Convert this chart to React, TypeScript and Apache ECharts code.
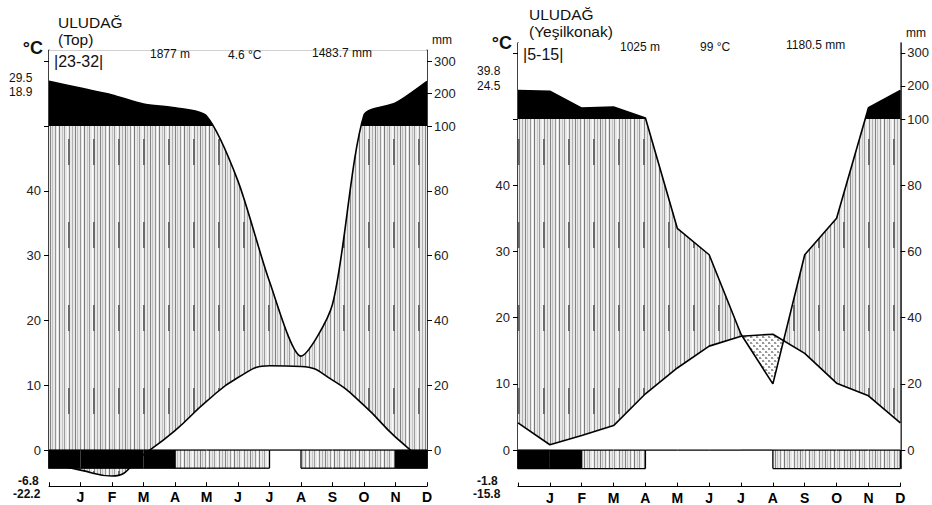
import React, { useEffect, useRef } from 'react';
import * as echarts from 'echarts';

// ---------- data ----------
const MONTHS = ['J', 'F', 'M', 'A', 'M', 'J', 'J', 'A', 'S', 'O', 'N', 'D'];

// Uludağ (Top)
const TOP_TEMP = [-3.1, -4.0, -0.7, 3.0, 7.5, 11.2, 13.0, 12.9, 10.8, 6.9, 2.0, -2.0];
const TOP_PRECIP = [217, 196, 168, 156, 131, 83, 52, 29, 45, 134, 171, 238];
// 2 = certain frost (black), 1 = probable frost (hatched), 0 = none
const TOP_FROST = [2, 2, 2, 2, 1, 1, 1, 0, 1, 1, 1, 2];
const TOP_TEXT = {
  name: 'ULUDAĞ', sub: '(Top)', years: '|23-32|', alt: '1877 m', meanT: '4.6 °C', sumP: '1483.7 mm',
  maxAbs: '29.5', maxMean: '18.9', minMean: '-6.8', minAbs: '-22.2',
};

// Uludağ (Yeşilkonak)
const YES_TEMP = [0.8, 2.2, 3.7, 8.5, 12.4, 15.7, 17.2, 17.5, 14.6, 10.1, 8.2, 4.1];
const YES_PRECIP = [184, 133, 136, 103, 67, 59, 35, 20, 59, 70, 134, 186];
const YES_FROST = [2, 2, 1, 1, 0, 0, 0, 0, 1, 1, 1, 1];
const YES_TEXT = {
  name: 'ULUDAĞ', sub: '(Yeşilkonak)', years: '|5-15|', alt: '1025 m', meanT: '99 °C', sumP: '1180.5 mm',
  maxAbs: '39.8', maxMean: '24.5', minMean: '-1.8', minAbs: '-15.8',
};

const TEMP_TICKS = [0, 10, 20, 30, 40, 50, 60];
const TEMP_LABELS = [0, 10, 20, 30, 40];
const PRECIP_TICKS_MM = [0, 20, 40, 60, 80, 100, 200, 300];

const FONT = '"Liberation Sans", Arial, Helvetica, sans-serif';

// precipitation (mm) -> diagram units (°C scale): 20 mm = 10 °C up to 100 mm, then 1:10
function pu(p: number) {
  return p <= 100 ? p / 2 : 50 + (p - 100) / 20;
}
function unitToMm(u: number) {
  return u <= 50 ? u * 2 : 100 + (u - 50) * 20;
}
// x = 0 repeats December, x = 1..12 are J..D
function cyc(v: number[]) {
  return [v[11], ...v];
}
function toPts(v: number[]) {
  return cyc(v).map((y, i) => [i, y]);
}

function aridPolys(T: number[], P: number[]) {
  const polys: number[][][] = [];
  let top: number[][] = [];
  let bot: number[][] = [];
  const d = T.map((t, i) => t - P[i]);
  for (let i = 0; i < T.length; i++) {
    if (i > 0) {
      const da = d[i - 1];
      const db = d[i];
      if ((da > 0) !== (db > 0)) {
        const t = da / (da - db);
        const xc = i - 1 + t;
        const yc = T[i - 1] + t * (T[i] - T[i - 1]);
        top.push([xc, yc]);
        if (da > 0) {
          polys.push([...top, ...bot.slice().reverse()]);
          top = [];
          bot = [];
        }
      }
    }
    if (d[i] > 0) {
      top.push([i, T[i]]);
      bot.push([i, P[i]]);
    }
  }
  if (top.length) polys.push([...top, ...bot.slice().reverse()]);
  return polys;
}

function makeStripes(withDash: boolean) {
  const w = 25;
  const h = 83;
  const c = document.createElement('canvas');
  c.width = w;
  c.height = h;
  const g = c.getContext('2d')!;
  g.fillStyle = '#e8e8e8';
  g.fillRect(0, 0, w, h);
  const cols: [number, string][] = [
    [0, '#838383'], [2, '#c0c0c0'], [5, '#969696'], [7, '#ffffff'], [9, '#7a7a7a'],
    [12, '#c6c6c6'], [14, '#9c9c9c'], [17, '#fafafa'], [19, '#8a8a8a'], [22, '#b2b2b2'],
  ];
  cols.forEach(([x, col]) => {
    g.fillStyle = col;
    g.fillRect(x, 0, 1, h);
  });
  if (withDash) {
    g.fillStyle = '#6a6a6a';
    g.fillRect(18, 56, 2, 26);
  }
  return c;
}

function makeDots() {
  const c = document.createElement('canvas');
  c.width = 6;
  c.height = 6;
  const g = c.getContext('2d')!;
  g.fillStyle = '#ffffff';
  g.fillRect(0, 0, 6, 6);
  g.fillStyle = '#9a9a9a';
  g.fillRect(0, 0, 2, 2);
  g.fillRect(3, 3, 2, 2);
  g.fillStyle = '#cccccc';
  g.fillRect(2, 1, 1, 1);
  g.fillRect(5, 4, 1, 1);
  return c;
}

export default function App() {
  const ref = useRef<HTMLDivElement>(null);

  useEffect(() => {
    const el = ref.current!;
    const chart = echarts.init(el, null, { renderer: 'svg' });

    const hatchDash = { image: makeStripes(true), repeat: 'repeat', imageWidth: 25, imageHeight: 83 };
    const hatchPlain = { image: makeStripes(false), repeat: 'repeat', imageWidth: 25, imageHeight: 83 };
    const dots = { image: makeDots(), repeat: 'repeat', imageWidth: 6, imageHeight: 6 };

    const panels = [
      {
        temp: TOP_TEMP, precip: TOP_PRECIP, frost: TOP_FROST, smoothT: 0.5, smoothP: 0.25,
        grid: { left: 49, top: 50.2, width: 378, height: 418 }, yMin: -2.8, yMax: 61.7,
      },
      {
        temp: YES_TEMP, precip: YES_PRECIP, frost: YES_FROST, smoothT: false, smoothP: false,
        grid: { left: 518, top: 42.9, width: 383, height: 425.7 }, yMin: -2.8, yMax: 61.5,
      },
    ];

    const grids: any[] = [];
    const xAxes: any[] = [];
    const yAxes: any[] = [];
    const series: any[] = [];

    panels.forEach((pn, gi) => {
      grids.push({ ...pn.grid });
      xAxes.push({
        gridIndex: gi, type: 'value', min: 0, max: 12, interval: 1, position: 'bottom', offset: 18,
        axisLine: { show: true, onZero: false, lineStyle: { color: '#000', width: 1 } },
        axisTick: { show: true, inside: true, length: 4, lineStyle: { color: '#000', width: 1 } },
        axisLabel: {
          margin: 4, fontSize: 14, fontWeight: 'bold', color: '#000', fontFamily: FONT,
          showMinLabel: true, showMaxLabel: true,
          formatter: (v: number) => (v >= 1 && v <= 12 ? MONTHS[Math.round(v) - 1] : ''),
        },
        splitLine: { show: false },
      });
      const yBase = {
        gridIndex: gi, type: 'value', min: pn.yMin, max: pn.yMax,
        splitLine: { show: false },
        axisLine: { show: true, onZero: false, lineStyle: { color: '#000', width: 1.5 } },
      };
      yAxes.push({
        ...yBase, position: 'left',
        axisTick: { show: true, length: 5, customValues: TEMP_TICKS, lineStyle: { color: '#000', width: 1 } },
        axisLabel: { customValues: TEMP_LABELS, margin: 8, fontSize: 13, color: '#222', fontFamily: FONT },
      });
      const rightTicks = PRECIP_TICKS_MM.map(pu);
      yAxes.push({
        ...yBase, position: 'right',
        axisTick: { show: true, length: 5, customValues: rightTicks, lineStyle: { color: '#000', width: 1 } },
        axisLabel: {
          customValues: rightTicks, margin: 7, fontSize: 13, color: '#222', fontFamily: FONT,
          formatter: (v: number) => String(Math.round(unitToMm(v))),
        },
      });

      const P = toPts(pn.precip.map(pu));
      const T = toPts(pn.temp);
      const base = {
        xAxisIndex: gi, yAxisIndex: gi * 2, symbol: 'none', showSymbol: false,
        silent: true, animation: false,
      };
      const cP = { ...base, smooth: pn.smoothP };
      const cT = { ...base, smooth: pn.smoothT };

      // background: hatch between 0 and 100 mm, black above
      series.push({
        type: 'custom', xAxisIndex: gi, yAxisIndex: gi * 2, z: 1, silent: true, data: [[0, 0]],
        renderItem: (_p: any, api: any) => {
          const a = api.coord([0, pn.yMax]);
          const m = api.coord([0, 50]);
          const z = api.coord([12, 0]);
          return {
            type: 'group',
            children: [
              { type: 'rect', shape: { x: a[0], y: m[1], width: z[0] - a[0], height: z[1] - m[1] }, style: { fill: hatchDash } },
              { type: 'rect', shape: { x: a[0], y: a[1], width: z[0] - a[0], height: m[1] - a[1] }, style: { fill: '#000' } },
            ],
          };
        },
      });
      // white above the precipitation curve
      series.push({
        type: 'line', ...cP, data: P, z: 2, lineStyle: { opacity: 0 },
        areaStyle: { color: '#fff', opacity: 1, origin: 'end' },
      });
      // hatch below temperature (only visible where it dips under the frost band)
      series.push({
        type: 'line', ...cT, data: T, z: 3, clip: false, lineStyle: { opacity: 0 },
        areaStyle: { color: hatchDash, opacity: 1, origin: 'start' },
      });
      // white below temperature inside the plot
      series.push({
        type: 'line', ...cT, data: T, z: 4, clip: true, lineStyle: { opacity: 0 },
        areaStyle: { color: '#fff', opacity: 1, origin: pn.yMin - 3 },
      });
      // arid period (dotted)
      series.push({
        type: 'custom', xAxisIndex: gi, yAxisIndex: gi * 2, z: 5, silent: true, data: [[0, 0]],
        renderItem: (_p: any, api: any) => {
          const polys = aridPolys(cyc(pn.temp), cyc(pn.precip.map(pu)));
          return {
            type: 'group',
            children: polys.map((pts) => ({
              type: 'polygon',
              shape: { points: pts.map((q) => api.coord(q)) },
              style: { fill: dots },
            })),
          };
        },
      });
      // frost band
      series.push({
        type: 'custom', xAxisIndex: gi, yAxisIndex: gi * 2, z: 5, silent: true,
        data: pn.frost.map((_c, i) => [i, 0]),
        renderItem: (params: any, api: any) => {
          const i = params.dataIndex;
          const code = pn.frost[i];
          const a = api.coord([i, 0]);
          const b = api.coord([i + 1, pn.yMin]);
          const children: any[] = [];
          if (code > 0) {
            children.push({
              type: 'rect', shape: { x: a[0], y: a[1], width: b[0] - a[0], height: b[1] - a[1] },
              style: { fill: code === 2 ? '#000' : hatchPlain },
            });
            children.push({ type: 'line', shape: { x1: a[0], y1: b[1], x2: b[0], y2: b[1] }, style: { stroke: '#000', lineWidth: 1.3 } });
            if (i === 0 || pn.frost[i - 1] !== code) {
              children.push({ type: 'line', shape: { x1: a[0], y1: a[1], x2: a[0], y2: b[1] }, style: { stroke: '#000', lineWidth: 1.3 } });
            }
            if (i === 11 || pn.frost[i + 1] !== code) {
              children.push({ type: 'line', shape: { x1: b[0], y1: a[1], x2: b[0], y2: b[1] }, style: { stroke: '#000', lineWidth: 1.3 } });
            }
          }
          children.push({ type: 'line', shape: { x1: a[0], y1: a[1], x2: b[0], y2: a[1] }, style: { stroke: '#000', lineWidth: 1.3 } });
          return { type: 'group', children };
        },
      });
      // curves
      series.push({ type: 'line', ...cP, data: P, z: 6, clip: false, lineStyle: { color: '#000', width: 1.6 } });
      series.push({ type: 'line', ...cT, data: T, z: 6, clip: false, lineStyle: { color: '#000', width: 1.6 } });
    });

    const txt = (text: string, x: number, y: number, size: number, bold = false, align = 'left') => ({
      type: 'text', x, y, z: 100, silent: true,
      style: {
        text, fontSize: size, fontFamily: FONT, fontWeight: bold ? 'bold' : 'normal', fill: '#111',
        align, verticalAlign: 'middle', textAlign: align, textVerticalAlign: 'middle',
      },
    });

    const graphic = [
      txt(TOP_TEXT.name, 58, 22, 15.5),
      txt(TOP_TEXT.sub, 58, 39, 15.5),
      txt('°C', 43, 48, 18, true, 'right'),
      txt(TOP_TEXT.years, 54, 61, 16),
      txt(TOP_TEXT.alt, 150, 54, 12),
      txt(TOP_TEXT.meanT, 228, 55, 12),
      txt(TOP_TEXT.sumP, 312, 53, 12),
      txt('mm', 432, 40, 12),
      txt(TOP_TEXT.maxAbs, 9, 78, 12),
      txt(TOP_TEXT.maxMean, 9, 92, 12),
      txt(TOP_TEXT.minMean, 18, 481, 12, true),
      txt(TOP_TEXT.minAbs, 13, 494, 12, true),

      txt(YES_TEXT.name, 529, 14, 15.5),
      txt(YES_TEXT.sub, 529, 31, 15.5),
      txt('°C', 512, 43, 18, true, 'right'),
      txt(YES_TEXT.years, 523, 54, 16),
      txt(YES_TEXT.alt, 620, 47, 12),
      txt(YES_TEXT.meanT, 700, 47, 12),
      txt(YES_TEXT.sumP, 786, 45, 12),
      txt('mm', 906, 33, 12),
      txt(YES_TEXT.maxAbs, 477, 71, 12),
      txt(YES_TEXT.maxMean, 477, 86, 12),
      txt(YES_TEXT.minMean, 477, 481, 12, true),
      txt(YES_TEXT.minAbs, 473, 494, 12, true),
    ];

    chart.setOption({
      animation: false,
      backgroundColor: '#ffffff',
      grid: grids,
      xAxis: xAxes,
      yAxis: yAxes,
      series,
      graphic,
    });

    return () => {
      chart.dispose();
    };
  }, []);

  return (
    <div
      ref={ref}
      style={{ position: 'absolute', left: 0, top: 0, width: 932, height: 505, background: '#fff' }}
    />
  );
}
